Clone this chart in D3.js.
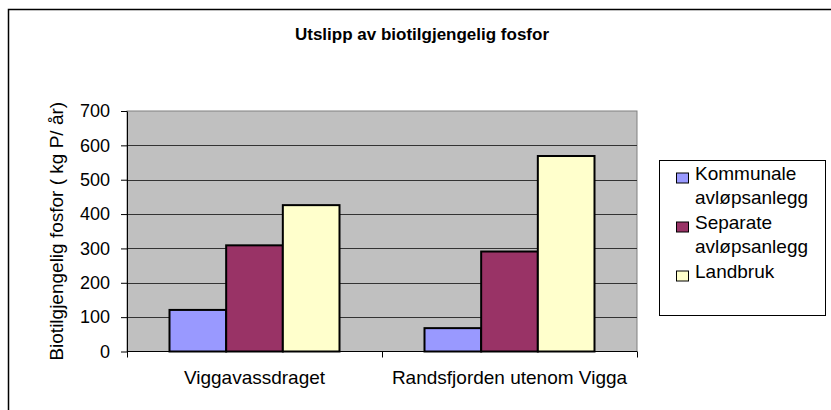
<!DOCTYPE html>
<html lang="no">
<head>
    <meta charset="UTF-8">
    <title>Utslipp av biotilgjengelig fosfor</title>
    <script src="https://d3js.org/d3.v7.min.js"></script>
    <style>
        body {
            margin: 0;
            padding: 0;
            background: #fff;
            overflow: hidden;
        }

        svg {
            display: block;
            font-family: "Liberation Sans", Arial, sans-serif;
        }

        .grid line {
            stroke: #333;
            stroke-width: 1px;
        }

        .bar {
            stroke: #000;
            stroke-width: 2px;
        }
    </style>
</head>
<body>
    <svg id="chart" width="831" height="410"></svg>
    <script>
        // Data
        var categories = ['Viggavassdraget', 'Randsfjorden utenom Vigga'];
        var seriesNames = ['Kommunale avløpsanlegg', 'Separate avløpsanlegg', 'Landbruk'];
        var legendLines = [['Kommunale', 'avløpsanlegg'], ['Separate', 'avløpsanlegg'], ['Landbruk']];
        var kommunale = [121, 68];
        var separate = [309, 291];
        var landbruk = [426, 569];
        var seriesColors = ['#9999ff', '#993366', '#ffffcc'];
        var yTicks = [0, 100, 200, 300, 400, 500, 600, 700];

        var seriesValues = [kommunale, separate, landbruk];

        var svg = d3.select('#chart');

        // Plot area
        var plotLeft = 127, plotRight = 637, plotTop = 111, plotBottom = 351.5;

        // Outer chart border (runs off the right and bottom edge)
        svg.append('rect')
            .attr('x', 8.5)
            .attr('y', 9.5)
            .attr('width', 840)
            .attr('height', 420)
            .attr('fill', '#fff')
            .attr('stroke', '#000')
            .attr('stroke-width', 1.5);

        // Title
        svg.append('text')
            .attr('x', 422)
            .attr('y', 39.5)
            .attr('text-anchor', 'middle')
            .attr('font-size', 17)
            .attr('font-weight', 'bold')
            .text('Utslipp av biotilgjengelig fosfor');

        var x = d3.scaleBand()
            .domain(categories)
            .range([plotLeft, plotRight]);

        var xSeries = d3.scaleBand()
            .domain(seriesNames)
            .range([0, x.bandwidth()])
            .paddingInner(0)
            .paddingOuter(0.75);

        var y = d3.scaleLinear()
            .domain([0, 700])
            .range([plotBottom, plotTop]);

        // Gray plot background
        svg.append('rect')
            .attr('x', plotLeft)
            .attr('y', plotTop)
            .attr('width', plotRight - plotLeft)
            .attr('height', plotBottom - plotTop)
            .attr('fill', '#c0c0c0')
            .attr('stroke', '#808080')
            .attr('stroke-width', 1);

        // Gridlines
        svg.append('g')
            .attr('class', 'grid')
            .selectAll('line')
            .data(yTicks.filter(function(d) { return d > 0 && d < 700; }))
            .enter().append('line')
            .attr('x1', plotLeft)
            .attr('x2', plotRight)
            .attr('y1', function(d) { return Math.round(y(d)) + 0.5; })
            .attr('y2', function(d) { return Math.round(y(d)) + 0.5; });

        // Bars
        var groups = svg.append('g')
            .selectAll('g')
            .data(categories)
            .enter().append('g')
            .attr('transform', function(d) { return 'translate(' + x(d) + ',0)'; });

        groups.selectAll('rect')
            .data(function(d, i) {
                return seriesNames.map(function(s, j) {
                    return { series: s, value: seriesValues[j][i], color: seriesColors[j] };
                });
            })
            .enter().append('rect')
            .attr('class', 'bar')
            .attr('x', function(d) { return xSeries(d.series); })
            .attr('width', xSeries.bandwidth())
            .attr('y', function(d) { return y(d.value); })
            .attr('height', function(d) { return plotBottom - y(d.value); })
            .attr('fill', function(d) { return d.color; });

        // Y axis
        var yAxis = svg.append('g')
            .attr('transform', 'translate(' + plotLeft + ',0)')
            .call(d3.axisLeft(y).tickValues(yTicks).tickSize(6).tickPadding(11).tickSizeOuter(0));
        yAxis.select('.domain').attr('stroke', '#000');
        yAxis.selectAll('.tick line').attr('stroke', '#000');
        yAxis.selectAll('.tick text')
            .attr('font-size', 18)
            .attr('font-family', '"Liberation Sans", Arial, sans-serif')
            .attr('fill', '#000');

        // X axis: ticks at category boundaries
        svg.append('line')
            .attr('x1', plotLeft)
            .attr('x2', plotRight)
            .attr('y1', plotBottom)
            .attr('y2', plotBottom)
            .attr('stroke', '#000');

        var bounds = categories.map(function(c) { return x(c); }).concat([plotRight]);
        svg.append('g')
            .selectAll('line')
            .data(bounds)
            .enter().append('line')
            .attr('x1', function(d) { return Math.round(d) + 0.5; })
            .attr('x2', function(d) { return Math.round(d) + 0.5; })
            .attr('y1', plotBottom)
            .attr('y2', plotBottom + 6)
            .attr('stroke', '#000');

        svg.append('g')
            .selectAll('text')
            .data(categories)
            .enter().append('text')
            .attr('x', function(d) { return x(d) + x.bandwidth() / 2; })
            .attr('y', 383.5)
            .attr('text-anchor', 'middle')
            .attr('font-size', 19)
            .text(function(d) { return d; });

        // Y axis title
        svg.append('text')
            .attr('transform', 'translate(63,' + ((plotTop + plotBottom) / 2) + ') rotate(-90)')
            .attr('text-anchor', 'middle')
            .attr('font-size', 19)
            .text('Biotilgjengelig fosfor ( kg P/ år)');

        // Legend
        svg.append('rect')
            .attr('x', 659.5)
            .attr('y', 160.5)
            .attr('width', 166)
            .attr('height', 155)
            .attr('fill', '#fff')
            .attr('stroke', '#000')
            .attr('stroke-width', 1);

        var lineH = 24.5;
        var baseline = 179.5;
        legendLines.forEach(function(lines, i) {
            svg.append('rect')
                .attr('x', 676.5)
                .attr('y', baseline - 6.5)
                .attr('width', 12)
                .attr('height', 10)
                .attr('fill', seriesColors[i])
                .attr('stroke', '#000')
                .attr('stroke-width', 1);

            lines.forEach(function(t, k) {
                svg.append('text')
                    .attr('x', 695)
                    .attr('y', baseline + k * lineH)
                    .attr('font-size', 19)
                    .text(t);
            });
            baseline += lines.length * lineH;
        });
    </script>
</body>
</html>
